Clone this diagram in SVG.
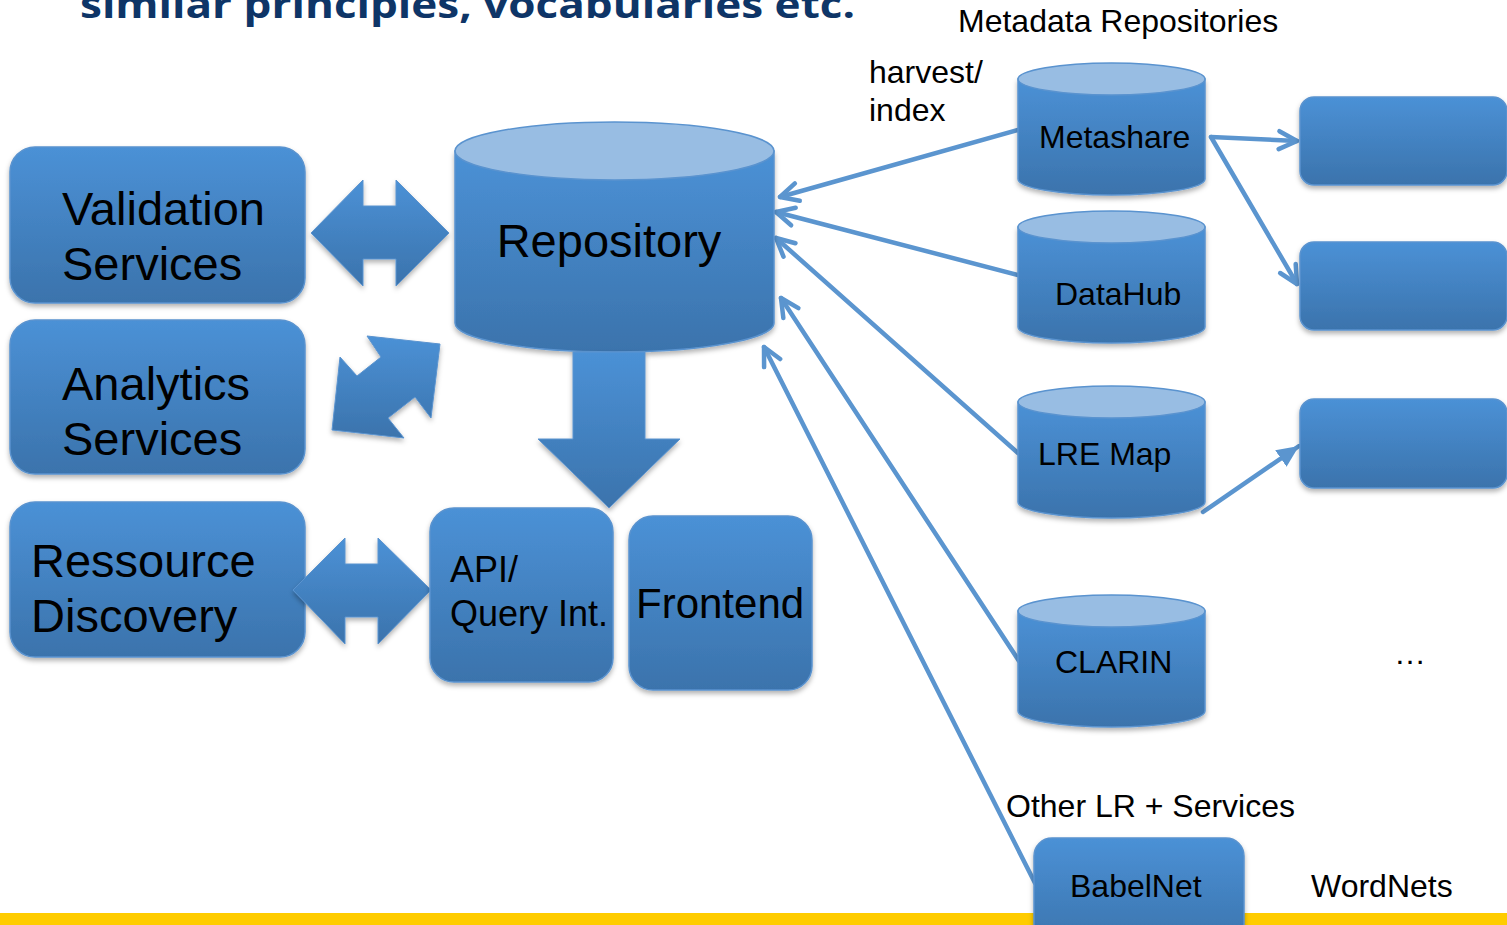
<svg xmlns="http://www.w3.org/2000/svg" width="1507" height="925" viewBox="0 0 1507 925">
<style>
.box{fill:url(#gb);stroke:#5a93cf;stroke-width:1.5;filter:url(#sh)}
.top{fill:#98bde3;stroke:#5a93cf;stroke-width:1.5}
.big{font-family:"Liberation Sans",Arial,sans-serif;font-size:47px;fill:#000}
.mid{font-family:"Liberation Sans",Arial,sans-serif;font-size:36px;fill:#000}
.sm{font-family:"Liberation Sans",Arial,sans-serif;font-size:32px;fill:#000}
.con{fill:none;stroke:#5b95cf;stroke-width:4.5;stroke-linecap:round}
.shape{fill:url(#gb);stroke:#5a93cf;stroke-width:1;filter:url(#sh)}
</style>
<defs>
<linearGradient id="gb" x1="0" y1="0" x2="0" y2="1">
<stop offset="0" stop-color="#4b91d6"/>
<stop offset="1" stop-color="#3b73ac"/>
</linearGradient>
<filter id="sh" x="-10%" y="-10%" width="120%" height="130%">
<feDropShadow dx="0" dy="3" stdDeviation="2.5" flood-color="#000" flood-opacity="0.3"/>
</filter>
<marker id="open" viewBox="0 0 24 24" refX="21" refY="12" markerWidth="24" markerHeight="24" markerUnits="userSpaceOnUse" orient="auto">
<path d="M3,3 L21,12 L3,21" fill="none" stroke="#5b95cf" stroke-width="4.5" stroke-linecap="round" stroke-linejoin="round"/>
</marker>
<marker id="fill" viewBox="0 0 24 24" refX="22" refY="12" markerWidth="24" markerHeight="24" markerUnits="userSpaceOnUse" orient="auto">
<path d="M0,2 L22,12 L0,22 Z" fill="#5b95cf"/>
</marker>
</defs>
<rect width="1507" height="925" fill="#fff"/>
<text x="80" y="18" font-family="'Open Sans',sans-serif" font-weight="bold" font-size="37" fill="#0e3567" textLength="775" lengthAdjust="spacingAndGlyphs">similar principles, vocabularies etc.</text>
<rect x="0" y="913" width="1507" height="12" fill="#ffcc00"/>

<g id="connectors">
<line class="con" x1="1018" y1="130" x2="780" y2="197" marker-end="url(#open)"/>
<line class="con" x1="1018" y1="275" x2="776" y2="212" marker-end="url(#open)"/>
<line class="con" x1="1018" y1="453" x2="776" y2="238" marker-end="url(#open)"/>
<line class="con" x1="1019" y1="661" x2="781" y2="298" marker-end="url(#open)"/>
<line class="con" x1="1035" y1="883" x2="764" y2="347" marker-end="url(#open)"/>
<line class="con" x1="1211" y1="137" x2="1297" y2="141" marker-end="url(#open)"/>
<line class="con" x1="1211" y1="137" x2="1297" y2="284" marker-end="url(#open)"/>
<line class="con" x1="1203" y1="512" x2="1299" y2="446" marker-end="url(#fill)"/>
</g>

<g id="validation-services">
<rect class="box" x="10" y="147" width="295" height="156" rx="25"/>
<text class="big" x="62" y="225">Validation</text>
<text class="big" x="62" y="280">Services</text>
</g>
<g id="analytics-services">
<rect class="box" x="10" y="320" width="295" height="154" rx="25"/>
<text class="big" x="62" y="400">Analytics</text>
<text class="big" x="62" y="455">Services</text>
</g>
<g id="ressource-discovery">
<rect class="box" x="10" y="502" width="295" height="155" rx="25"/>
<text class="big" x="31" y="577">Ressource</text>
<text class="big" x="31" y="632">Discovery</text>
</g>
<g id="arrow-validation">
<path class="shape" d="M311,233 L363,180 L363,206 L396,206 L396,180 L449,233 L396,286 L396,259 L363,259 L363,286 Z"/>
</g>
<g id="arrow-analytics">
<path class="shape" d="M440,344 L431,418 L415,397 L388,418 L404,438 L332,430 L340,357 L357,376 L381,357 L367,336 Z"/>
</g>
<g id="arrow-discovery">
<path class="shape" d="M293,590 L345,538 L345,564 L378,564 L378,538 L431,590 L378,644 L378,617 L345,617 L345,644 Z"/>
</g>

<g id="repository">
<path class="box" d="M455,151 L455,323 A159.5,29 0 0 0 774,323 L774,151 Z"/>
<ellipse class="top" cx="614.5" cy="151" rx="159.5" ry="29"/>
<text class="big" x="609" y="257" text-anchor="middle">Repository</text>
</g>
<g id="arrow-down">
<path class="shape" d="M573,352 L645,352 L645,439 L680,439 L609,508 L538,439 L573,439 Z"/>
</g>
<g id="api">
<rect class="box" x="430" y="508" width="183" height="174" rx="24"/>
<text class="mid" x="450" y="582">API/</text>
<text class="mid" x="450" y="626">Query Int.</text>
</g>
<g id="frontend">
<rect class="box" x="629" y="516" width="183" height="174" rx="24"/>
<text x="636" y="618" font-family="'Liberation Sans',Arial,sans-serif" font-size="42" fill="#000">Frontend</text>
</g>

<text class="sm" x="958" y="32">Metadata Repositories</text>
<text class="sm" x="869" y="83">harvest/</text>
<text class="sm" x="869" y="121">index</text>

<g id="metashare">
<path class="box" d="M1018,79 L1018,179 A93.5,16 0 0 0 1205,179 L1205,79 Z"/>
<ellipse class="top" cx="1111.5" cy="79" rx="93.5" ry="16"/>
<text class="sm" x="1039" y="148">Metashare</text>
</g>
<g id="datahub">
<path class="box" d="M1018,227 L1018,327 A93.5,16 0 0 0 1205,327 L1205,227 Z"/>
<ellipse class="top" cx="1111.5" cy="227" rx="93.5" ry="16"/>
<text class="sm" x="1055" y="305">DataHub</text>
</g>
<g id="lre-map">
<path class="box" d="M1018,402 L1018,502 A93.5,16 0 0 0 1205,502 L1205,402 Z"/>
<ellipse class="top" cx="1111.5" cy="402" rx="93.5" ry="16"/>
<text class="sm" x="1038" y="465">LRE Map</text>
</g>
<g id="clarin">
<path class="box" d="M1018,611 L1018,711 A93.5,16 0 0 0 1205,711 L1205,611 Z"/>
<ellipse class="top" cx="1111.5" cy="611" rx="93.5" ry="16"/>
<text class="sm" x="1055" y="673">CLARIN</text>
</g>

<g id="target-1"><rect class="box" x="1300" y="97" width="207" height="88" rx="14"/></g>
<g id="target-2"><rect class="box" x="1300" y="242" width="207" height="88" rx="14"/></g>
<g id="target-3"><rect class="box" x="1300" y="399" width="207" height="89" rx="14"/></g>

<text class="sm" x="1394" y="664" font-size="34">…</text>
<text class="sm" x="1006" y="817">Other LR + Services</text>
<g id="babelnet">
<rect class="box" x="1034" y="838" width="210" height="110" rx="18"/>
<text class="sm" x="1070" y="897">BabelNet</text>
</g>
<text class="sm" x="1311" y="897">WordNets</text>
</svg>
